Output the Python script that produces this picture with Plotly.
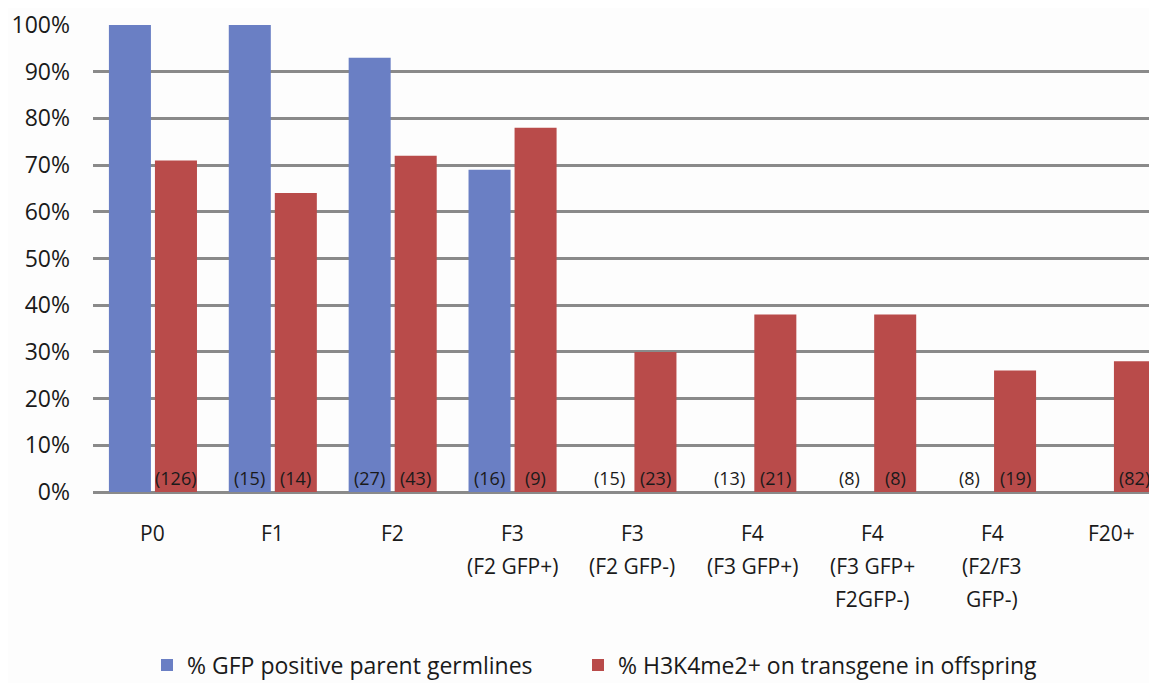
import plotly.graph_objects as go

categories = ["P0", "F1", "F2", "F3 (F2 GFP+)", "F3 (F2 GFP-)", "F4 (F3 GFP+)",
              "F4 (F3 GFP+ F2GFP-)", "F4 (F2/F3 GFP-)", "F20+"]
tick_lines = [["P0"], ["F1"], ["F2"], ["F3", "(F2 GFP+)"], ["F3", "(F2 GFP-)"],
              ["F4", "(F3 GFP+)"], ["F4", "(F3 GFP+", "F2GFP-)"], ["F4", "(F2/F3", "GFP-)"],
              ["F20+"]]
gfp_pos = [1.00, 1.00, 0.93, 0.69, None, None, None, None, None]
h3k4 = [0.71, 0.64, 0.72, 0.78, 0.30, 0.38, 0.38, 0.26, 0.28]
gfp_n = [None, 15, 27, 16, 15, 13, 8, 8, None]
h3k4_n = [126, 14, 43, 9, 23, 21, 8, 19, 82]
y_ticks = [0, 0.1, 0.2, 0.3, 0.4, 0.5, 0.6, 0.7, 0.8, 0.9, 1.0]

BLUE = "#6A7FC4"
RED = "#B94B4A"
FONT = "Open Sans"
TXT = "#1a1a1a"

W, H = 1149, 675

fig = go.Figure()
fig.add_trace(go.Bar(x=categories, y=gfp_pos, name="% GFP positive parent germlines",
                     marker=dict(color=BLUE, line=dict(width=0)), legend="legend"))
fig.add_trace(go.Bar(x=categories, y=h3k4, name="% H3K4me2+ on transgene in offspring",
                     marker=dict(color=RED, line=dict(width=0)), legend="legend2"))

annotations = []
for cat, n_b, n_r in zip(categories, gfp_n, h3k4_n):
    for n, dx in ((n_b, -23), (n_r, 23)):
        if n is None:
            continue
        annotations.append(dict(x=cat, y=0, xref="x", yref="y", text=f"({n})",
                                showarrow=False, xshift=dx, yanchor="bottom", yshift=0,
                                font=dict(family=FONT, size=18, color=TXT)))
for cat, lines in zip(categories, tick_lines):
    for i, line in enumerate(lines):
        annotations.append(dict(x=cat, y=0, xref="x", yref="paper", text=line,
                                showarrow=False, yanchor="middle", yshift=-41 - 33 * i,
                                font=dict(family=FONT, size=21, color=TXT)))

legend_style = dict(orientation="h", xref="container", yref="container",
                    y=18 / H, xanchor="left", yanchor="middle",
                    font=dict(family=FONT, size=23, color=TXT),
                    itemwidth=30, bgcolor="rgba(0,0,0,0)")

fig.update_layout(
    width=W, height=H,
    margin=dict(l=85, r=0, t=17, b=191),
    paper_bgcolor="#fdfdfd", plot_bgcolor="#fdfdfd",
    barmode="group", bargap=0.232, bargroupgap=0.087,
    font=dict(family=FONT, color=TXT),
    annotations=annotations,
    showlegend=True,
    legend=dict(x=139 / W, **legend_style),
    legend2=dict(x=570 / W, **legend_style),
)
fig.update_xaxes(range=[-0.5, 8.376], showticklabels=False, showgrid=False,
                 zeroline=False, showline=False, ticks="")
fig.update_yaxes(range=[0, 1.0], tickvals=y_ticks, tickformat=".0%",
                 showgrid=True, gridcolor="#8a8a8a", gridwidth=2.5,
                 zeroline=True, zerolinecolor="#8a8a8a", zerolinewidth=2.5,
                 showline=False, ticks="", ticklabelstandoff=22,
                 tickfont=dict(family=FONT, size=23, color=TXT))

fig.write_html("out.html")
